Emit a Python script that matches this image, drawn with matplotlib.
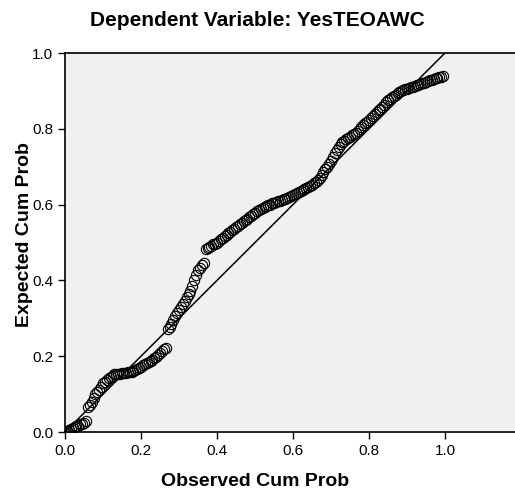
import matplotlib
matplotlib.use("Agg")
import matplotlib.pyplot as plt

plt.rcParams['font.family'] = ['Liberation Sans', 'DejaVu Sans']

# observed vs expected cumulative probability (P-P plot of residuals)
obs = [0.000, 0.005, 0.010, 0.015, 0.020, 0.025, 0.030, 0.035, 0.040, 0.045,
       0.050, 0.055, 0.060, 0.065, 0.070, 0.075, 0.080, 0.085, 0.090, 0.095,
       0.100, 0.105, 0.110, 0.115, 0.120, 0.125, 0.130, 0.135, 0.140, 0.145,
       0.150, 0.155, 0.160, 0.165, 0.170, 0.175, 0.180, 0.185, 0.190, 0.195,
       0.200, 0.205, 0.210, 0.215, 0.220, 0.225, 0.230, 0.235, 0.240, 0.245,
       0.250, 0.255, 0.260, 0.265, 0.270, 0.275, 0.280, 0.285, 0.290, 0.295,
       0.300, 0.305, 0.310, 0.315, 0.320, 0.325, 0.330, 0.335, 0.340, 0.345,
       0.350, 0.355, 0.360, 0.365, 0.370, 0.375, 0.380, 0.385, 0.390, 0.395,
       0.400, 0.405, 0.410, 0.415, 0.420, 0.425, 0.430, 0.435, 0.440, 0.445,
       0.450, 0.455, 0.460, 0.465, 0.470, 0.475, 0.480, 0.485, 0.490, 0.495,
       0.500, 0.505, 0.510, 0.515, 0.520, 0.525, 0.530, 0.535, 0.540, 0.545,
       0.550, 0.555, 0.560, 0.565, 0.570, 0.575, 0.580, 0.585, 0.590, 0.595,
       0.600, 0.605, 0.610, 0.615, 0.620, 0.625, 0.630, 0.635, 0.640, 0.645,
       0.650, 0.655, 0.660, 0.665, 0.670, 0.675, 0.680, 0.685, 0.690, 0.695,
       0.700, 0.705, 0.710, 0.715, 0.720, 0.725, 0.730, 0.735, 0.740, 0.745,
       0.750, 0.755, 0.760, 0.765, 0.770, 0.775, 0.780, 0.785, 0.790, 0.795,
       0.800, 0.805, 0.810, 0.815, 0.820, 0.825, 0.830, 0.835, 0.840, 0.845,
       0.850, 0.855, 0.860, 0.865, 0.870, 0.875, 0.880, 0.885, 0.890, 0.895,
       0.900, 0.905, 0.910, 0.915, 0.920, 0.925, 0.930, 0.935, 0.940, 0.945,
       0.950, 0.955, 0.960, 0.965, 0.970, 0.975, 0.980, 0.985, 0.990, 0.995]
exp = [0.000, 0.002, 0.005, 0.007, 0.010, 0.012, 0.015, 0.017, 0.020, 0.022,
       0.025, 0.028, 0.066, 0.072, 0.080, 0.090, 0.100, 0.106, 0.112, 0.120,
       0.128, 0.133, 0.138, 0.142, 0.146, 0.149, 0.152, 0.153, 0.154, 0.154,
       0.155, 0.155, 0.156, 0.157, 0.158, 0.159, 0.161, 0.163, 0.165, 0.168,
       0.172, 0.176, 0.180, 0.182, 0.185, 0.188, 0.191, 0.194, 0.198, 0.203,
       0.208, 0.213, 0.218, 0.222, 0.272, 0.276, 0.285, 0.295, 0.305, 0.314,
       0.322, 0.330, 0.338, 0.346, 0.355, 0.364, 0.373, 0.386, 0.400, 0.414,
       0.428, 0.434, 0.440, 0.445, 0.484, 0.486, 0.489, 0.492, 0.495, 0.497,
       0.500, 0.504, 0.508, 0.512, 0.516, 0.520, 0.524, 0.528, 0.532, 0.536,
       0.540, 0.544, 0.548, 0.552, 0.556, 0.560, 0.563, 0.567, 0.570, 0.574,
       0.578, 0.582, 0.585, 0.589, 0.592, 0.594, 0.596, 0.598, 0.600, 0.603,
       0.605, 0.607, 0.609, 0.610, 0.612, 0.614, 0.616, 0.618, 0.620, 0.622,
       0.625, 0.627, 0.630, 0.633, 0.636, 0.638, 0.641, 0.643, 0.646, 0.649,
       0.652, 0.656, 0.660, 0.665, 0.670, 0.678, 0.686, 0.693, 0.700, 0.708,
       0.716, 0.725, 0.735, 0.744, 0.752, 0.759, 0.765, 0.769, 0.772, 0.776,
       0.779, 0.783, 0.786, 0.790, 0.793, 0.799, 0.804, 0.809, 0.814, 0.819,
       0.824, 0.829, 0.834, 0.839, 0.844, 0.849, 0.853, 0.858, 0.864, 0.870,
       0.875, 0.879, 0.883, 0.887, 0.890, 0.894, 0.897, 0.900, 0.902, 0.904,
       0.906, 0.908, 0.909, 0.911, 0.913, 0.915, 0.916, 0.918, 0.920, 0.922,
       0.924, 0.926, 0.928, 0.930, 0.931, 0.933, 0.934, 0.936, 0.937, 0.939]

ticks = [0.0, 0.2, 0.4, 0.6, 0.8, 1.0]
ticklabels = ["0.0", "0.2", "0.4", "0.6", "0.8", "1.0"]

W, H = 515, 494
fig = plt.figure(figsize=(W / 100, H / 100), dpi=100)
ax = fig.add_axes([65 / W, (H - 432) / H, (W - 65) / W, 379 / H])
ax.set_facecolor("#f0f0f0")

ax.plot([0, 1], [0, 1], color="black", linewidth=1.1, zorder=2)
ax.plot(obs, exp, "o", markerfacecolor="none", markeredgecolor="black",
        markersize=7.4, markeredgewidth=0.8, zorder=3)

ax.set_xlim(0, 450 / 380)
ax.set_ylim(0, 1.0)
ax.set_xticks(ticks)
ax.set_xticklabels(ticklabels)
ax.set_yticks(ticks)
ax.set_yticklabels(ticklabels)
ax.tick_params(direction="out", length=5, width=1, labelsize=11, colors="black")

ax.spines["right"].set_visible(False)
for s in ["left", "bottom", "top"]:
    ax.spines[s].set_linewidth(1.2)

fig.text(255 / W, 1 - 481 / H, "Observed Cum Prob", fontsize=14,
         fontweight="bold", ha="center", va="center")
fig.text(25 / W, 1 - 235 / H, "Expected Cum Prob", fontsize=14,
         fontweight="bold", ha="center", va="center", rotation=90)
fig.text(257 / W, 1 - 20 / H, "Dependent Variable: YesTEOAWC", fontsize=15,
         fontweight="bold", ha="center", va="center")

fig.savefig("out.png", dpi=100)
